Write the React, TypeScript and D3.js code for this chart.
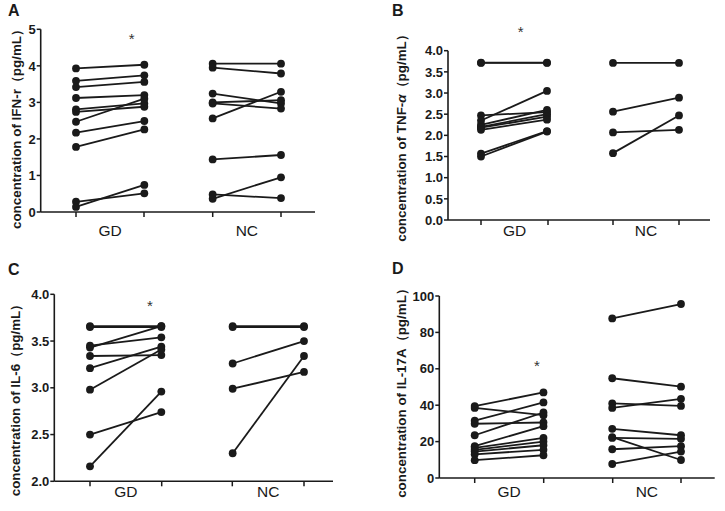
import React from "react";
import * as d3 from "d3";

const groups = ["GD", "NC"];

// Panel A: IFN-r
const ifnGdPre = [3.93, 3.59, 3.42, 3.12, 2.81, 2.74, 2.47, 2.17, 1.78, 0.28, 0.14];
const ifnGdPost = [4.03, 3.74, 3.56, 3.2, 2.97, 2.88, 3.1, 2.49, 2.26, 0.51, 0.74];
const ifnNcPre = [4.06, 3.95, 3.24, 3.0, 2.97, 2.56, 1.44, 0.48, 0.36];
const ifnNcPost = [4.06, 3.79, 2.97, 3.06, 2.83, 3.29, 1.56, 0.38, 0.95];
const ifnTicks = [0, 1, 2, 3, 4, 5];

// Panel B: TNF-α
const tnfGdPre = [3.72, 3.71, 2.47, 2.35, 2.25, 2.2, 2.18, 2.13, 1.57, 1.5];
const tnfGdPost = [3.72, 3.71, 2.55, 3.05, 2.6, 2.5, 2.44, 2.37, 2.1, 2.09];
const tnfNcPre = [3.71, 2.56, 2.07, 1.58];
const tnfNcPost = [3.71, 2.89, 2.13, 2.47];
const tnfTicks = [0, 0.5, 1, 1.5, 2, 2.5, 3, 3.5, 4];

// Panel C: IL-6
const il6GdPre = [3.66, 3.65, 3.43, 3.45, 3.34, 3.21, 2.98, 2.5, 2.16];
const il6GdPost = [3.66, 3.65, 3.66, 3.54, 3.35, 3.44, 3.41, 2.74, 2.96];
const il6NcPre = [3.66, 3.65, 3.26, 2.99, 2.3];
const il6NcPost = [3.66, 3.65, 3.5, 3.17, 3.34];
const il6Ticks = [2, 2.5, 3, 3.5, 4];

// Panel D: IL-17A
const il17GdPre = [39.5, 38.5, 31.5, 29.8, 23.5, 17.5, 16.5, 15.5, 14.5, 13, 9.8];
const il17GdPost = [47, 34.5, 41.5, 30.5, 36, 28.5, 22, 20, 18, 15.5, 12.5];
const il17NcPre = [87.7, 54.8, 41, 38.5, 27, 22.5, 22, 15.8, 7.7];
const il17NcPost = [95.6, 50.2, 39.6, 43.5, 23.5, 9.9, 21.5, 17.5, 14.5];
const il17Ticks = [0, 20, 40, 60, 80, 100];

type PanelCfg = {
  letter: string;
  letterX: number;
  letterY: number;
  axisX: number;
  xEnd: number;
  yTop: number;
  yBottom: number;
  domain: [number, number];
  ticks: number[];
  fmt: (v: number) => string;
  xTicks: number[];
  gdPre: number[];
  gdPost: number[];
  ncPre: number[];
  ncPost: number[];
  title: React.ReactNode;
  titleX: number;
  titleY: number;
  star: [number, number];
  labelY: number;
};

const ink = "#1a1a1a";
const font = "Liberation Sans, Arial, sans-serif";

function Panel({ c }: { c: PanelCfg }) {
  const y = d3.scaleLinear().domain(c.domain).range([c.yBottom, c.yTop]);
  const x = d3
    .scalePoint<string>()
    .domain(["g0", "g1", "g2", "g3"])
    .range([c.xTicks[0], c.xTicks[3]]);
  const pairs = (pre: number[], post: number[], a: string, b: string) =>
    pre.map((v, i) => ({ x1: x(a)!, y1: y(v), x2: x(b)!, y2: y(post[i]) }));
  const all = [
    ...pairs(c.gdPre, c.gdPost, "g0", "g1"),
    ...pairs(c.ncPre, c.ncPost, "g2", "g3"),
  ];
  const lineGen = d3.line<[number, number]>();
  return (
    <g>
      <text x={c.letterX} y={c.letterY} fontSize={16} fontWeight="bold" fill={ink}
        fontFamily={font}>{c.letter}</text>
      <line x1={c.axisX} x2={c.axisX} y1={c.yTop} y2={c.yBottom} stroke={ink} strokeWidth={1.6} />
      {c.ticks.map((t) => (
        <g key={t}>
          <line x1={c.axisX - 4} x2={c.axisX} y1={y(t)} y2={y(t)} stroke={ink} strokeWidth={1.5} />
          <text x={c.axisX - 5} y={y(t)} dy="0.36em" textAnchor="end" fontSize={13}
            fontWeight="bold" fill={ink} fontFamily={font}>{c.fmt(t)}</text>
        </g>
      ))}
      <line x1={c.axisX} x2={c.xEnd} y1={c.yBottom} y2={c.yBottom} stroke={ink} strokeWidth={1.6} />
      {c.xTicks.map((t, i) => (
        <line key={i} x1={t} x2={t} y1={c.yBottom} y2={c.yBottom + 5} stroke={ink} strokeWidth={1.5} />
      ))}
      {groups.map((g, i) => (
        <text key={g} x={(c.xTicks[i * 2] + c.xTicks[i * 2 + 1]) / 2} y={c.labelY} dy="0.36em"
          textAnchor="middle" fontSize={15.5} fill={ink} fontFamily={font}>{g}</text>
      ))}
      <text transform={`translate(${c.titleX},${c.titleY}) rotate(-90)`} textAnchor="middle"
        fontSize={13.4} fontWeight="bold" fill={ink} dy="0.36em" fontFamily={font}>{c.title}</text>
      <text x={c.star[0]} y={c.star[1]} dy="0.7em" textAnchor="middle" fontSize={15} fill="#333"
        fontFamily={font}>*</text>
      {all.map((p, i) => (
        <path key={"l" + i} d={lineGen([[p.x1, p.y1], [p.x2, p.y2]]) || ""} stroke={ink}
          strokeWidth={1.8} fill="none" />
      ))}
      {all.map((p, i) => (
        <g key={"p" + i}>
          <circle cx={p.x1} cy={p.y1} r={3.9} fill={ink} />
          <circle cx={p.x2} cy={p.y2} r={3.9} fill={ink} />
        </g>
      ))}
    </g>
  );
}

const f0 = (v: number) => d3.format("d")(v);
const f1 = (v: number) => d3.format(".1f")(v);

const panels: PanelCfg[] = [
  {
    letter: "A", letterX: 8, letterY: 16, axisX: 40.7, xEnd: 315, yTop: 29.3, yBottom: 212,
    domain: [0, 5], ticks: ifnTicks, fmt: f0, xTicks: [76, 144, 212.7, 281],
    gdPre: ifnGdPre, gdPost: ifnGdPost, ncPre: ifnNcPre, ncPost: ifnNcPost,
    title: "concentration of IFN-r（pg/mL）", titleX: 15.7, titleY: 126,
    star: [131.7, 33], labelY: 230,
  },
  {
    letter: "B", letterX: 392, letterY: 16, axisX: 448, xEnd: 710, yTop: 50.7, yBottom: 220,
    domain: [0, 4], ticks: tnfTicks, fmt: f1, xTicks: [481, 548, 613, 679],
    gdPre: tnfGdPre, gdPost: tnfGdPost, ncPre: tnfNcPre, ncPost: tnfNcPost,
    title: (<>concentration of TNF-<tspan fontStyle="italic">α</tspan>（pg/mL）</>),
    titleX: 401, titleY: 135, star: [520.7, 26], labelY: 230,
  },
  {
    letter: "C", letterX: 8, letterY: 275, axisX: 54.3, xEnd: 333, yTop: 294.3, yBottom: 481.3,
    domain: [2, 4], ticks: il6Ticks, fmt: f1, xTicks: [90, 161.7, 232.3, 304],
    gdPre: il6GdPre, gdPost: il6GdPost, ncPre: il6NcPre, ncPost: il6NcPost,
    title: "concentration of IL-6（pg/mL）", titleX: 15, titleY: 397,
    star: [150, 300], labelY: 491,
  },
  {
    letter: "D", letterX: 392, letterY: 274, axisX: 439.3, xEnd: 714.7, yTop: 296, yBottom: 478,
    domain: [0, 100], ticks: il17Ticks, fmt: f0, xTicks: [474.7, 543.7, 612.7, 681],
    gdPre: il17GdPre, gdPost: il17GdPost, ncPre: il17NcPre, ncPost: il17NcPost,
    title: "concentration of IL-17A（pg/mL）", titleX: 401, titleY: 390,
    star: [537, 360], labelY: 491,
  },
];

export default function App() {
  return (
    <svg width={725} height={511} style={{ position: "absolute", left: 0, top: 0, background: "#fff" }}>
      <rect width={725} height={511} fill="#fff" />
      {panels.map((p) => (
        <Panel key={p.letter} c={p} />
      ))}
    </svg>
  );
}
